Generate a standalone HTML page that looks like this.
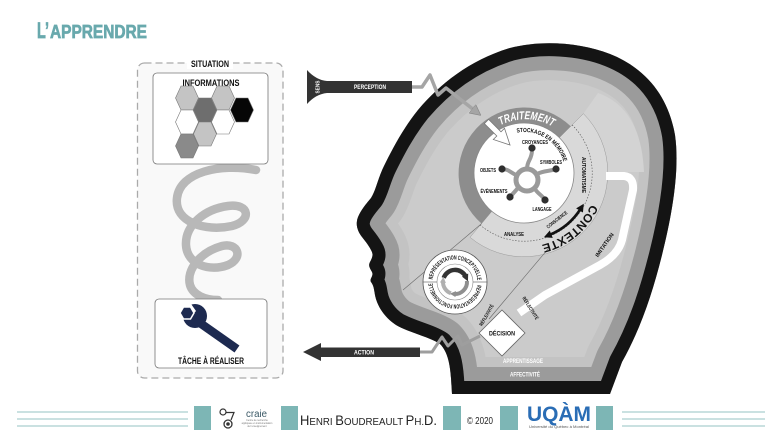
<!DOCTYPE html>
<html><head><meta charset="utf-8">
<style>
html,body{margin:0;padding:0;background:#fff;width:775px;height:435px;overflow:hidden}
svg{display:block}
text{font-family:"Liberation Sans",Arial,sans-serif}
.b{font-weight:bold}
.n{font-weight:normal}
</style></head><body>
<svg width="775" height="435" viewBox="0 0 775 435" xmlns="http://www.w3.org/2000/svg">
<defs>
 <path id="head" d="M452,394 L451,378 C450,365 448,352 440,344 C430,337 410,333 396,325 C385,318 377,306 375,295 C374,290 374,286 371,282 C369,279 374,276 372,272 C370,268 368,266 370,262 C372,258 374,255 371,250 C369,246 366,242 362,237 C358,232 356,226 357,221 C358,214 365,205 371,198 C376,190 378,178 384,166 C392,150 402,130 418,110 C440,84 470,60 510,48 C540,40 580,42 610,54 C645,68 668,95 675,135 C680,170 672,215 662,255 C652,295 640,330 622,362 L610,394 Z"/>
 <clipPath id="hc"><use href="#head"/></clipPath>
 <marker id="ab" viewBox="0 0 10 10" refX="3" refY="5" markerWidth="8" markerHeight="8" markerUnits="userSpaceOnUse" orient="auto-start-reverse"><path d="M0,0L10,5L0,10z" fill="#111"/></marker>
 <marker id="md" viewBox="0 0 10 10" refX="3" refY="5" markerWidth="7" markerHeight="7" markerUnits="userSpaceOnUse" orient="auto"><path d="M0,0L10,5L0,10z" fill="#333"/></marker>
 <marker id="mg1" viewBox="0 0 10 10" refX="3" refY="5" markerWidth="6" markerHeight="6" markerUnits="userSpaceOnUse" orient="auto"><path d="M0,0L10,5L0,10z" fill="#8f8f8f"/></marker>
 <marker id="mg2" viewBox="0 0 10 10" refX="3" refY="5" markerWidth="6" markerHeight="6" markerUnits="userSpaceOnUse" orient="auto"><path d="M0,0L10,5L0,10z" fill="#b0b0b0"/></marker>
 <marker id="mp" viewBox="0 0 10 10" refX="2" refY="5" markerWidth="11" markerHeight="11" markerUnits="userSpaceOnUse" orient="auto"><path d="M0,0L10,5L0,10z" fill="#a5a5a5" stroke="#888" stroke-width="0.6"/></marker>
 <path id="ctx" d="M591.1,204.3 A74,74 0 0 1 540.6,245.1"/>
 <path id="trt" d="M491.4,131.2 A54,54 0 0 1 570,143"/>
 <path id="stk" d="M516.9,132.6 A41,41 0 0 1 564.1,164.5"/>
 <path id="rep" d="M432.5,282 A22.5,22.5 0 0 1 477.5,282 A22.5,22.5 0 0 1 432.5,282"/>
</defs>
<rect width="775" height="435" fill="#fff"/>

<!-- Title -->
<text class="b" x="37" y="38" font-size="22" fill="#69a9ad" stroke="#69a9ad" stroke-width="0.7" textLength="12" lengthAdjust="spacingAndGlyphs">L’</text>
<text class="b" x="50" y="38" font-size="18" fill="#69a9ad" stroke="#69a9ad" stroke-width="0.7" textLength="97" lengthAdjust="spacingAndGlyphs">APPRENDRE</text>

<!-- Situation box -->
<rect x="137.5" y="63" width="145.5" height="315" rx="7" fill="#f9f9f9" stroke="#aaa" stroke-width="1.3" stroke-dasharray="7 4"/>
<rect x="187" y="57" width="46" height="12" fill="#fff"/>
<text class="b" x="210" y="67" font-size="9" text-anchor="middle" fill="#111" textLength="38" lengthAdjust="spacingAndGlyphs">SITUATION</text>

<!-- spiral -->
<path d="M256,170 C220,163 180,172 177,198 C174,222 205,232 232,226 C252,221 250,203 228,206 C205,209 185,225 186,245 C187,265 210,272 228,265 C244,258 238,242 222,246 C200,252 186,270 190,285 C193,295 205,300 218,300" fill="none" stroke="#b8b8b8" stroke-width="8.5" stroke-linecap="round"/>

<!-- Informations -->
<rect x="153" y="73" width="115" height="91" rx="4" fill="#fff" stroke="#777" stroke-width="0.8"/>
<text class="b" x="211" y="86" font-size="9" text-anchor="middle" fill="#111" textLength="57" lengthAdjust="spacingAndGlyphs">INFORMATIONS</text>
<g stroke="#777" stroke-width="0.6">
 <polygon transform="translate(187,98)" points="-11.5,0 -6,-12 6,-12 11.5,0 6,12 -6,12" fill="#c4c4c4"/>
 <polygon transform="translate(205,110)" points="-11.5,0 -6,-12 6,-12 11.5,0 6,12 -6,12" fill="#6e6e6e"/>
 <polygon transform="translate(223,98)" points="-11.5,0 -6,-12 6,-12 11.5,0 6,12 -6,12" fill="#c4c4c4"/>
 <polygon transform="translate(242,110)" points="-11.5,0 -6,-12 6,-12 11.5,0 6,12 -6,12" fill="#060606"/>
 <polygon transform="translate(187,122)" points="-11.5,0 -6,-12 6,-12 11.5,0 6,12 -6,12" fill="#fff"/>
 <polygon transform="translate(223,122)" points="-11.5,0 -6,-12 6,-12 11.5,0 6,12 -6,12" fill="#fff"/>
 <polygon transform="translate(205,134)" points="-11.5,0 -6,-12 6,-12 11.5,0 6,12 -6,12" fill="#c4c4c4"/>
 <polygon transform="translate(187,146)" points="-11.5,0 -6,-12 6,-12 11.5,0 6,12 -6,12" fill="#8a8a8a"/>
</g>

<!-- Tache -->
<rect x="155" y="299" width="112" height="69" rx="4" fill="#fff" stroke="#777" stroke-width="0.8"/>
<line x1="200" y1="323" x2="237" y2="349" stroke="#1d2a50" stroke-width="8.5"/>
<circle cx="195" cy="316" r="12" fill="#1d2a50"/>
<polygon points="179,303 189,301 196,311 190,318" fill="#fff"/>
<polygon transform="translate(187,313)" points="-7,0 -3.5,-6 3.5,-6 7,0 3.5,6 -3.5,6" fill="#1d2a50" stroke="#fff" stroke-width="1.5"/>
<text class="b" x="211" y="364" font-size="9" text-anchor="middle" fill="#111" textLength="66" lengthAdjust="spacingAndGlyphs">TÂCHE À RÉALISER</text>

<!-- HEAD -->
<use href="#head" fill="#cbcbcb"/>
<g clip-path="url(#hc)" fill="none" stroke-linejoin="round">
 <use href="#head" stroke="#c3c3c3" stroke-width="74"/>
 <use href="#head" stroke="#9b9b9b" stroke-width="54"/>
 <use href="#head" stroke="#141414" stroke-width="26"/>
</g>

<!-- light regions -->
<path d="M583.4,113.6 L598,93 C626,103 642,128 644,172 L608,172 A84,84 0 0 0 583.4,113.6 Z" fill="#d3d3d3"/>
<path d="M524,173 L583.4,113.6 A84,84 0 0 1 470,237.3 Z" fill="#d9d9d9" stroke="#9a9a9a" stroke-width="0.5"/>
<!-- diagonal band lines -->
<line x1="481.6" y1="223.6" x2="403" y2="290" stroke="#6a6a6a" stroke-width="0.6"/>
<line x1="548" y1="249" x2="489" y2="319" stroke="#6a6a6a" stroke-width="0.6"/>
<!-- dashed circle -->
<path d="M572.1,124.9 A68,68 0 0 1 480.3,225.1" fill="none" stroke="#555" stroke-width="0.6" stroke-dasharray="1.5 1.5"/>
<!-- dark ring -->
<path d="M481.6,223.6 A66,66 0 1 1 570.7,126.3 L559.4,137.6 A50,50 0 1 0 491.9,211.3 Z" fill="#8d8d8d"/>
<circle cx="524" cy="173" r="50" fill="#fff" stroke="#888" stroke-width="0.8"/>

<!-- traitement -->
<text class="b" font-size="11.5" font-style="italic" fill="#fff"><textPath href="#trt" startOffset="11" textLength="54" lengthAdjust="spacingAndGlyphs">TRAITEMENT</textPath></text>
<polygon points="488.6,119.4 501,131.8 504.5,128.3 510,145 493.3,139.5 496.8,136 484.4,123.6" fill="#fff" stroke="#777" stroke-width="0.8"/>
<text class="b" font-size="6" fill="#111"><textPath href="#stk" textLength="60" lengthAdjust="spacingAndGlyphs">STOCKAGE EN MÉMOIRE</textPath></text>

<!-- hub -->
<g fill="none" stroke="#9a9a9a" stroke-width="4">
 <circle cx="527" cy="180" r="11" stroke-width="5"/>
 <path d="M527,169 C527,160 532,160 532,150"/>
 <path d="M537,174 C545,170 548,172 556,169"/>
 <path d="M516,175 C510,172 508,169 502,169"/>
 <path d="M518,188 L510,197"/>
 <path d="M535,189 C538,194 542,195 545,200"/>
</g>
<g fill="#2e2e2e">
 <circle cx="532" cy="148" r="3.6"/><circle cx="556" cy="169" r="3.6"/><circle cx="502" cy="169" r="3.6"/><circle cx="510" cy="197" r="3.6"/><circle cx="545" cy="200" r="3.6"/>
</g>
<g class="b" font-size="5.5" fill="#111" text-anchor="middle">
 <text x="535" y="144" textLength="26" lengthAdjust="spacingAndGlyphs">CROYANCES</text>
 <text x="551" y="164" textLength="22" lengthAdjust="spacingAndGlyphs">SYMBOLES</text>
 <text x="488" y="172" textLength="16" lengthAdjust="spacingAndGlyphs">OBJETS</text>
 <text x="494" y="193" textLength="27" lengthAdjust="spacingAndGlyphs">ÉVÉNEMENTS</text>
 <text x="542" y="211" textLength="19" lengthAdjust="spacingAndGlyphs">LANGAGE</text>
 <text x="514" y="236" textLength="20" lengthAdjust="spacingAndGlyphs">ANALYSE</text>
 <text transform="translate(582,175) rotate(90)" textLength="36" lengthAdjust="spacingAndGlyphs">AUTOMATISME</text>
 <text transform="translate(558,221) rotate(-38)" font-size="5" textLength="25" lengthAdjust="spacingAndGlyphs">CONSCIENCE</text>
</g>
<path d="M549.1,235.1 A67,67 0 0 0 580.8,208.5" fill="none" stroke="#111" stroke-width="2.6" marker-start="url(#ab)" marker-end="url(#ab)"/>
<text class="b" font-size="12" fill="#111"><textPath href="#ctx" textLength="66" lengthAdjust="spacingAndGlyphs">CONTEXTE</textPath></text>

<!-- imitation band -->
<path d="M606,176 L624,176 Q634,177 633,190 L622,240 Q618,255 600,265 L545,295 L519,313" fill="none" stroke="#fff" stroke-width="8"/>
<text class="b" transform="translate(606,246) rotate(-55)" font-size="5.5" text-anchor="middle" fill="#111" textLength="28" lengthAdjust="spacingAndGlyphs">IMITATION</text>

<!-- representation circle -->
<circle cx="455" cy="282" r="32" fill="#fff" stroke="#555" stroke-width="0.8"/>
<circle cx="455" cy="282" r="18" fill="#fff" stroke="#888" stroke-width="0.6"/>
<line x1="423" y1="282" x2="437" y2="282" stroke="#555" stroke-width="0.6"/>
<line x1="473" y1="282" x2="487" y2="282" stroke="#555" stroke-width="0.6"/>
<text class="b" font-size="6" fill="#111"><textPath href="#rep" startOffset="2.5" textLength="66" lengthAdjust="spacingAndGlyphs">REPRÉSENTATION CONCEPTUELLE</textPath></text>
<text class="b" font-size="6" fill="#111"><textPath href="#rep" startOffset="73.2" textLength="66" lengthAdjust="spacingAndGlyphs">REPRÉSENTATION FONCTIONNELLE</textPath></text>
<path d="M443.7,277.9 A12,12 0 0 1 465.9,276.9" fill="none" stroke="#333" stroke-width="4.5" marker-end="url(#md)"/>
<path d="M466.95,280.95 A12,12 0 0 1 453.95,293.95" fill="none" stroke="#8f8f8f" stroke-width="4" marker-end="url(#mg1)"/>
<path d="M450.9,293.3 A12,12 0 0 1 443.05,280.95" fill="none" stroke="#b0b0b0" stroke-width="4" marker-end="url(#mg2)"/>

<!-- decision -->
<polygon points="502,310 525,333 502,356 479,333" fill="#fff" stroke="#666" stroke-width="0.8"/>
<text class="b" x="502" y="335.5" font-size="6" text-anchor="middle" fill="#111" textLength="26" lengthAdjust="spacingAndGlyphs">DÉCISION</text>
<text class="b" transform="translate(488,316) rotate(-60)" font-size="5" text-anchor="middle" fill="#111" textLength="24" lengthAdjust="spacingAndGlyphs">RÉFLEXIVITÉ</text>
<text class="b" transform="translate(529,309) rotate(58)" font-size="5" text-anchor="middle" fill="#111" textLength="26" lengthAdjust="spacingAndGlyphs">RÉFLECTIVITÉ</text>

<!-- bottom labels -->
<text class="b" x="523" y="363" font-size="6" text-anchor="middle" fill="#fff" textLength="40" lengthAdjust="spacingAndGlyphs">APPRENTISSAGE</text>
<text class="b" x="525" y="376.5" font-size="6" text-anchor="middle" fill="#fff" textLength="30" lengthAdjust="spacingAndGlyphs">AFFECTIVITÉ</text>

<!-- perception -->
<polyline points="412,87 422,87 430,75 438,95 446,88 474,110" fill="none" stroke="#a5a5a5" stroke-width="3.5" stroke-linejoin="round" marker-end="url(#mp)"/>
<path d="M307,70 Q316,80 327,81 L412,81 L412,93 L327,93 Q316,94 307,104 Z" fill="#333"/>
<text class="b" transform="translate(319.5,87) rotate(-90)" font-size="5.5" text-anchor="middle" fill="#fff" textLength="13" lengthAdjust="spacingAndGlyphs">SENS</text>
<text class="b" x="370" y="89.2" font-size="6" text-anchor="middle" fill="#fff" textLength="32" lengthAdjust="spacingAndGlyphs">PERCEPTION</text>

<!-- action -->
<polyline points="480,336 462,345 458,336 448,346 442,337 432,352 420,352" fill="none" stroke="#9e9e9e" stroke-width="3" stroke-linejoin="round"/>
<polygon points="303,352 321,343 321,347.5 420,347.5 420,357 321,357 321,361" fill="#333"/>
<text class="b" x="364" y="354.3" font-size="6" text-anchor="middle" fill="#fff" textLength="20" lengthAdjust="spacingAndGlyphs">ACTION</text>

<!-- footer -->
<g stroke="#96c3c3" stroke-width="0.9">
 <line x1="17" y1="412" x2="188" y2="412"/><line x1="17" y1="419" x2="188" y2="419"/><line x1="17" y1="426" x2="188" y2="426"/>
 <line x1="622" y1="412" x2="765" y2="412"/><line x1="622" y1="419" x2="765" y2="419"/><line x1="622" y1="426" x2="765" y2="426"/>
</g>
<g fill="#7db6b5">
 <rect x="194" y="406" width="17" height="24"/>
 <rect x="281" y="406" width="17" height="24"/>
 <rect x="443" y="406" width="18" height="24"/>
 <rect x="500" y="406" width="18" height="24"/>
 <rect x="596" y="406" width="17" height="24"/>
</g>
<!-- craie logo -->
<circle cx="223" cy="412" r="3" fill="none" stroke="#333" stroke-width="1.2"/>
<path d="M226,412.5 L234,412.5 L231,420" fill="none" stroke="#333" stroke-width="1.2"/>
<circle cx="228" cy="424" r="4" fill="none" stroke="#333" stroke-width="1.3"/>
<circle cx="228" cy="424" r="1.8" fill="#333"/>
<text class="n" x="246" y="417" font-size="10" fill="#3b5966" textLength="21" lengthAdjust="spacingAndGlyphs">craie</text>
<text class="n" x="257" y="421" font-size="2.4" text-anchor="middle" fill="#777">Centre de recherche</text>
<text class="n" x="257" y="424" font-size="2.4" text-anchor="middle" fill="#777">appliquée en instrumentation</text>
<text class="n" x="257" y="427" font-size="2.4" text-anchor="middle" fill="#777">de l'enseignement</text>
<text class="n" x="300" y="425" fill="#222" textLength="137" lengthAdjust="spacingAndGlyphs"><tspan font-size="14">H</tspan><tspan font-size="10.5">ENRI </tspan><tspan font-size="14">B</tspan><tspan font-size="10.5">OUDREAULT </tspan><tspan font-size="14">P</tspan><tspan font-size="10.5">H.</tspan><tspan font-size="14">D.</tspan></text>
<text class="n" x="467" y="424" font-size="10" fill="#222" textLength="26" lengthAdjust="spacingAndGlyphs">© 2020</text>
<text class="b" x="527" y="421" font-size="21" fill="#2a6db5" textLength="64" lengthAdjust="spacingAndGlyphs">UQÀM</text>
<text class="n" x="559" y="428" font-size="3.2" text-anchor="middle" fill="#555" textLength="60" lengthAdjust="spacingAndGlyphs">Université du Québec à Montréal</text>
</svg>
</body></html>
